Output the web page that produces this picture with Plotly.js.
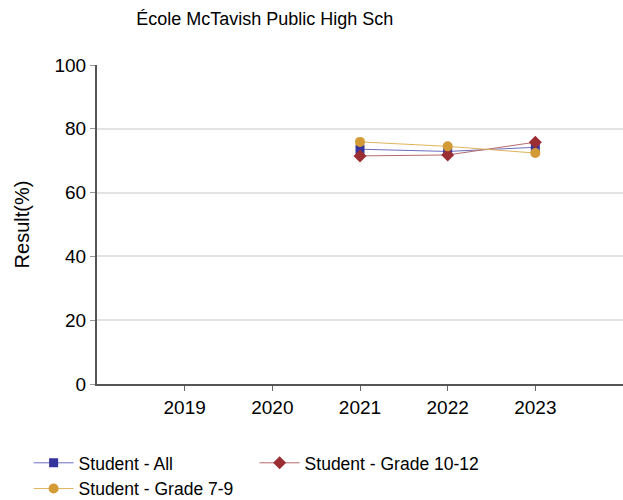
<!DOCTYPE html>
<html>
<head>
<meta charset="utf-8">
<script src="https://cdn.plot.ly/plotly-3.0.1.min.js"></script>
<style>html,body{margin:0;padding:0;background:#fff;}#chart{width:623px;height:500px;}</style>
</head>
<body>
<div id="chart"></div>
<script>
const years = [2021, 2022, 2023];
const tickYears = [2019, 2020, 2021, 2022, 2023];
const studentAll = [73.6, 72.9, 74.2];
const grade10to12 = [71.5, 71.8, 75.8];
const grade7to9 = [75.9, 74.5, 72.4];
const seriesNames = ["Student - All", "Student - Grade 10-12", "Student - Grade 7-9"];

const font = "Liberation Sans, Arial, sans-serif";
const traces = [
  {x: years, y: studentAll, name: seriesNames[0], type: "scatter", mode: "lines+markers",
   line: {color: "#6d6dbf", width: 1}, marker: {symbol: "square", size: 9, color: "#34349c"}},
  {x: years, y: grade10to12, name: seriesNames[1], type: "scatter", mode: "lines+markers",
   line: {color: "#b56a6d", width: 1}, marker: {symbol: "diamond", size: 10, color: "#9a2e33"}},
  {x: years, y: grade7to9, name: seriesNames[2], type: "scatter", mode: "lines+markers",
   line: {color: "#e0b45c", width: 1}, marker: {symbol: "circle", size: 10, color: "#d29b35"}}
];

const layout = {
  width: 623, height: 500,
  margin: {l: 97, r: 0, t: 65, b: 116, autoexpand: false},
  paper_bgcolor: "#fff", plot_bgcolor: "#fff",
  font: {family: font, color: "#000", size: 17},
  title: {text: "École McTavish Public High Sch", x: 0.425, xanchor: "center", y: 0.963, yanchor: "middle",
          font: {family: font, size: 18, color: "#000"}},
  xaxis: {range: [2018, 2024], tickvals: tickYears, ticktext: tickYears.map(String),
          showgrid: false, zeroline: false, showline: true, linecolor: "#555", linewidth: 2,
          ticks: "outside", ticklen: 5, tickcolor: "#666", tickfont: {size: 19, family: font}},
  yaxis: {range: [0, 100], tickvals: [0, 20, 40, 60, 80, 100], showgrid: true, gridcolor: "#e3e3e3", gridwidth: 2,
          zeroline: false, showline: true, linecolor: "#555", linewidth: 2,
          ticks: "outside", ticklen: 5, tickcolor: "#999", tickfont: {size: 19, family: font},
          title: {text: "Result(%)", font: {size: 20, family: font}, standoff: 19}},
  showlegend: true,
  legend: {orientation: "h", x: -0.13, xanchor: "left", y: -0.191, yanchor: "top",
           entrywidth: 171, entrywidthmode: "pixels", font: {size: 17.5, family: font},
           tracegroupgap: 0, itemwidth: 40}
};

Plotly.newPlot("chart", traces, layout, {displayModeBar: false, staticPlot: true});
</script>
</body>
</html>
